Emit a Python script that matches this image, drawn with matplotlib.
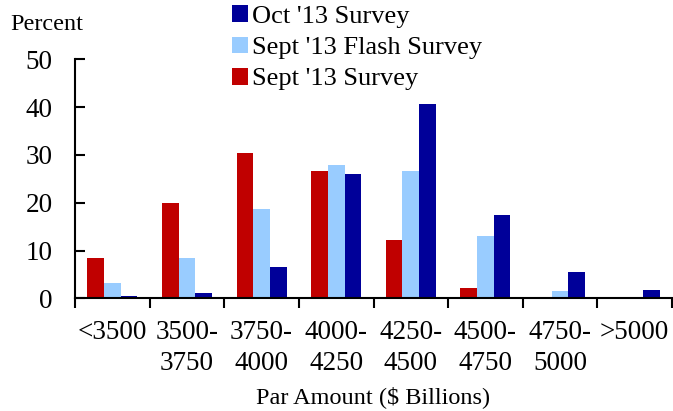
import matplotlib
matplotlib.use("Agg")
import matplotlib.pyplot as plt
import numpy as np

categories = ["<3500", "3500-\n3750", "3750-\n4000", "4000-\n4250",
              "4250-\n4500", "4500-\n4750", "4750-\n5000", ">5000"]
sept_survey = [8.4, 20.0, 30.5, 26.6, 12.2, 2.1, 0.0, 0.0]
sept_flash = [3.1, 8.5, 18.7, 27.9, 26.6, 13.0, 1.5, 0.0]
oct_survey = [0.5, 1.1, 6.5, 26.1, 40.6, 17.5, 5.4, 1.7]
yticks = [0, 10, 20, 30, 40, 50]

plt.rcParams['font.family'] = ['Liberation Serif', 'DejaVu Serif']

fig = plt.figure(figsize=(6.73, 4.11), dpi=100)
ax = fig.add_axes([75/673, 1-298.3/411, (672-75)/673, (298.3-59.3)/411])

x = np.arange(len(categories))
w = 0.223
c_red, c_light, c_dark = "#C00000", "#99CCFF", "#000099"
b3 = ax.bar(x + w, oct_survey, w, color=c_dark, label="Oct '13 Survey")
b2 = ax.bar(x, sept_flash, w, color=c_light, label="Sept '13 Flash Survey")
b1 = ax.bar(x - w, sept_survey, w, color=c_red, label="Sept '13 Survey")

ax.set_xlim(-0.5, len(categories) - 0.5)
ax.set_ylim(0, 50)
ax.set_yticks(yticks)
ax.set_yticklabels([str(v) for v in yticks])
ax.set_xticks(x)
ax.set_xticklabels(categories, fontsize=19.5, linespacing=1.3)
ax.set_xticks(np.arange(len(categories) + 1) - 0.5, minor=True)
ax.tick_params(axis='x', which='major', length=0, pad=15.5)
ax.tick_params(axis='x', which='minor', length=7, width=1.5, direction='out')
ax.tick_params(axis='y', which='major', length=7, width=1.5, direction='in',
               labelsize=19.5, pad=16)
for s in ['top', 'right']:
    ax.spines[s].set_visible(False)
for s in ['left', 'bottom']:
    ax.spines[s].set_linewidth(1.5)

ax.set_xlabel("Par Amount ($ Billions)", fontsize=17.5, labelpad=7.5)
fig.text(10/673, 1-30/411, "Percent", fontsize=17.5, va='baseline', ha='left')

fig.legend(handles=[b3, b2, b1], loc='upper left',
           bbox_to_anchor=(232/673, 1-5.5/411), frameon=False, fontsize=19,
           handlelength=0.62, handleheight=0.6, handletextpad=0.15,
           labelspacing=0.32, borderpad=0, borderaxespad=0)

fig.savefig("out.png", dpi=100)
